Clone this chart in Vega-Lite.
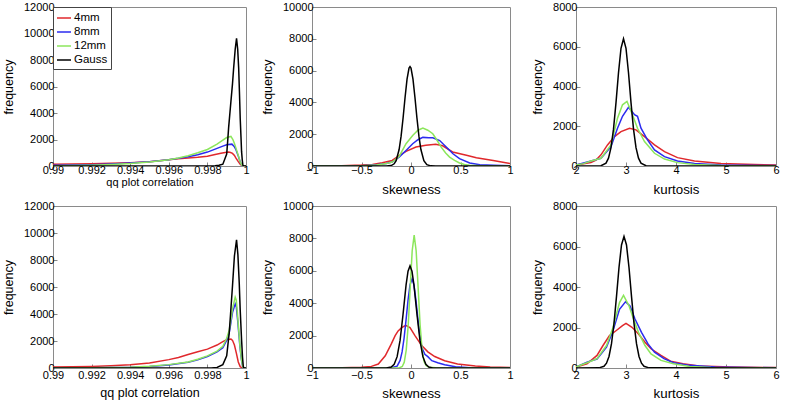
{
  "$schema": "https://vega.github.io/schema/vega-lite/v6.json",
  "background": "white",
  "padding": {"left": 1, "top": 0, "right": 0, "bottom": 0},
  "config": {
    "font": "Liberation Sans",
    "view": {"stroke": "#8a8a8a", "strokeWidth": 1},
    "axis": {"grid": false, "domain": false, "tickSize": -4, "tickColor": "#888", "labelFontSize": 11, "labelColor": "#000", "labelPadding": 3, "labelFlush": false, "labelOverlap": false, "titleFontSize": 13.3, "titleFontWeight": "normal", "titleColor": "#000", "titlePadding": 5},
    "axisY": {"titleFontSize": 12.5, "titlePadding": 8, "labelPadding": 3},
    "line": {"strokeWidth": 1.5, "clip": true}
  },
  "datasets": {
    "TL": [
      {"s":"4mm","x":0.99,"y":130},{"s":"4mm","x":0.991,"y":150},{"s":"4mm","x":0.992,"y":170},{"s":"4mm","x":0.993,"y":200},{"s":"4mm","x":0.994,"y":250},{"s":"4mm","x":0.995,"y":330},{"s":"4mm","x":0.9955,"y":400},{"s":"4mm","x":0.996,"y":480},{"s":"4mm","x":0.9965,"y":540},{"s":"4mm","x":0.997,"y":600},{"s":"4mm","x":0.9975,"y":660},{"s":"4mm","x":0.998,"y":740},{"s":"4mm","x":0.9984,"y":860},{"s":"4mm","x":0.9987,"y":960},{"s":"4mm","x":0.999,"y":1040},{"s":"4mm","x":0.9991,"y":1050},{"s":"4mm","x":0.9992,"y":1020},{"s":"4mm","x":0.9993,"y":950},{"s":"4mm","x":0.9994,"y":800},{"s":"4mm","x":0.99948,"y":590},{"s":"4mm","x":0.9996,"y":330},{"s":"4mm","x":0.9997,"y":130},{"s":"4mm","x":0.9998,"y":10},{"s":"4mm","x":0.99985,"y":0},{"s":"4mm","x":1,"y":0},
      {"s":"8mm","x":0.99,"y":50},{"s":"8mm","x":0.991,"y":70},{"s":"8mm","x":0.992,"y":100},{"s":"8mm","x":0.993,"y":150},{"s":"8mm","x":0.994,"y":230},{"s":"8mm","x":0.995,"y":330},{"s":"8mm","x":0.996,"y":480},{"s":"8mm","x":0.9965,"y":580},{"s":"8mm","x":0.997,"y":700},{"s":"8mm","x":0.9975,"y":850},{"s":"8mm","x":0.998,"y":1050},{"s":"8mm","x":0.9985,"y":1330},{"s":"8mm","x":0.9988,"y":1500},{"s":"8mm","x":0.999,"y":1600},{"s":"8mm","x":0.99927,"y":1650},{"s":"8mm","x":0.9994,"y":1450},{"s":"8mm","x":0.99948,"y":1230},{"s":"8mm","x":0.9996,"y":750},{"s":"8mm","x":0.9997,"y":300},{"s":"8mm","x":0.99978,"y":80},{"s":"8mm","x":0.99984,"y":0},{"s":"8mm","x":1,"y":0},
      {"s":"12mm","x":0.99,"y":10},{"s":"12mm","x":0.991,"y":30},{"s":"12mm","x":0.992,"y":60},{"s":"12mm","x":0.993,"y":110},{"s":"12mm","x":0.994,"y":190},{"s":"12mm","x":0.995,"y":310},{"s":"12mm","x":0.996,"y":470},{"s":"12mm","x":0.9965,"y":600},{"s":"12mm","x":0.997,"y":780},{"s":"12mm","x":0.9975,"y":1000},{"s":"12mm","x":0.998,"y":1250},{"s":"12mm","x":0.9985,"y":1650},{"s":"12mm","x":0.9988,"y":1950},{"s":"12mm","x":0.999,"y":2150},{"s":"12mm","x":0.99922,"y":2230},{"s":"12mm","x":0.99932,"y":2000},{"s":"12mm","x":0.9994,"y":1700},{"s":"12mm","x":0.99948,"y":1350},{"s":"12mm","x":0.9996,"y":800},{"s":"12mm","x":0.9997,"y":300},{"s":"12mm","x":0.99978,"y":80},{"s":"12mm","x":0.99984,"y":0},{"s":"12mm","x":1,"y":0},
      {"s":"Gauss","x":0.99,"y":0},{"s":"Gauss","x":0.998,"y":0},{"s":"Gauss","x":0.9984,"y":20},{"s":"Gauss","x":0.9986,"y":60},{"s":"Gauss","x":0.9988,"y":140},{"s":"Gauss","x":0.999,"y":900},{"s":"Gauss","x":0.99905,"y":1860},{"s":"Gauss","x":0.9991,"y":2900},{"s":"Gauss","x":0.99916,"y":3900},{"s":"Gauss","x":0.99922,"y":4900},{"s":"Gauss","x":0.9993,"y":6200},{"s":"Gauss","x":0.99936,"y":7400},{"s":"Gauss","x":0.99944,"y":8800},{"s":"Gauss","x":0.99951,"y":9640},{"s":"Gauss","x":0.99957,"y":8800},{"s":"Gauss","x":0.99962,"y":7400},{"s":"Gauss","x":0.99966,"y":5600},{"s":"Gauss","x":0.9997,"y":3600},{"s":"Gauss","x":0.99974,"y":2200},{"s":"Gauss","x":0.99977,"y":1100},{"s":"Gauss","x":0.99981,"y":400},{"s":"Gauss","x":0.99984,"y":50},{"s":"Gauss","x":0.9999,"y":0},{"s":"Gauss","x":1,"y":0}
    ],
    "TM": [
      {"s":"4mm","x":-1,"y":0},{"s":"4mm","x":-0.7,"y":20},{"s":"4mm","x":-0.5,"y":60},{"s":"4mm","x":-0.39,"y":100},{"s":"4mm","x":-0.29,"y":200},{"s":"4mm","x":-0.19,"y":350},{"s":"4mm","x":-0.12,"y":650},{"s":"4mm","x":-0.05,"y":920},{"s":"4mm","x":0.05,"y":1190},{"s":"4mm","x":0.15,"y":1300},{"s":"4mm","x":0.25,"y":1360},{"s":"4mm","x":0.32,"y":1270},{"s":"4mm","x":0.42,"y":880},{"s":"4mm","x":0.56,"y":670},{"s":"4mm","x":0.66,"y":520},{"s":"4mm","x":0.83,"y":350},{"s":"4mm","x":1,"y":150},
      {"s":"8mm","x":-1,"y":0},{"s":"8mm","x":-0.5,"y":20},{"s":"8mm","x":-0.35,"y":80},{"s":"8mm","x":-0.25,"y":160},{"s":"8mm","x":-0.19,"y":250},{"s":"8mm","x":-0.12,"y":560},{"s":"8mm","x":-0.05,"y":980},{"s":"8mm","x":0.017,"y":1400},{"s":"8mm","x":0.07,"y":1650},{"s":"8mm","x":0.12,"y":1800},{"s":"8mm","x":0.18,"y":1780},{"s":"8mm","x":0.22,"y":1770},{"s":"8mm","x":0.29,"y":1600},{"s":"8mm","x":0.356,"y":1190},{"s":"8mm","x":0.424,"y":770},{"s":"8mm","x":0.49,"y":460},{"s":"8mm","x":0.593,"y":190},{"s":"8mm","x":0.695,"y":80},{"s":"8mm","x":0.83,"y":40},{"s":"8mm","x":1,"y":10},
      {"s":"12mm","x":-1,"y":0},{"s":"12mm","x":-0.5,"y":10},{"s":"12mm","x":-0.35,"y":60},{"s":"12mm","x":-0.25,"y":150},{"s":"12mm","x":-0.19,"y":250},{"s":"12mm","x":-0.12,"y":600},{"s":"12mm","x":-0.05,"y":1400},{"s":"12mm","x":0.017,"y":1920},{"s":"12mm","x":0.07,"y":2250},{"s":"12mm","x":0.12,"y":2380},{"s":"12mm","x":0.17,"y":2250},{"s":"12mm","x":0.22,"y":2030},{"s":"12mm","x":0.26,"y":1650},{"s":"12mm","x":0.305,"y":1190},{"s":"12mm","x":0.35,"y":820},{"s":"12mm","x":0.39,"y":560},{"s":"12mm","x":0.44,"y":350},{"s":"12mm","x":0.49,"y":190},{"s":"12mm","x":0.54,"y":90},{"s":"12mm","x":0.59,"y":40},{"s":"12mm","x":0.7,"y":10},{"s":"12mm","x":1,"y":0},
      {"s":"Gauss","x":-1,"y":0},{"s":"Gauss","x":-0.25,"y":0},{"s":"Gauss","x":-0.2,"y":29},{"s":"Gauss","x":-0.17,"y":139},{"s":"Gauss","x":-0.15,"y":340},{"s":"Gauss","x":-0.12,"y":1035},{"s":"Gauss","x":-0.1,"y":1875},{"s":"Gauss","x":-0.08,"y":3017},{"s":"Gauss","x":-0.06,"y":4310},{"s":"Gauss","x":-0.04,"y":5468},{"s":"Gauss","x":-0.02,"y":6158},{"s":"Gauss","x":-0.01,"y":6250},{"s":"Gauss","x":0,"y":6158},{"s":"Gauss","x":0.02,"y":5468},{"s":"Gauss","x":0.04,"y":4310},{"s":"Gauss","x":0.06,"y":3017},{"s":"Gauss","x":0.08,"y":1875},{"s":"Gauss","x":0.1,"y":1035},{"s":"Gauss","x":0.13,"y":340},{"s":"Gauss","x":0.16,"y":85},{"s":"Gauss","x":0.2,"y":9},{"s":"Gauss","x":0.25,"y":0},{"s":"Gauss","x":1,"y":0}
    ],
    "TR": [
      {"s":"4mm","x":2,"y":50},{"s":"4mm","x":2.3,"y":180},{"s":"4mm","x":2.4,"y":300},{"s":"4mm","x":2.5,"y":560},{"s":"4mm","x":2.63,"y":1060},{"s":"4mm","x":2.77,"y":1480},{"s":"4mm","x":2.9,"y":1730},{"s":"4mm","x":3.07,"y":1900},{"s":"4mm","x":3.2,"y":1820},{"s":"4mm","x":3.37,"y":1480},{"s":"4mm","x":3.57,"y":1060},{"s":"4mm","x":3.77,"y":720},{"s":"4mm","x":4.03,"y":420},{"s":"4mm","x":4.37,"y":250},{"s":"4mm","x":4.9,"y":120},{"s":"4mm","x":5.57,"y":70},{"s":"4mm","x":6,"y":50},
      {"s":"8mm","x":2,"y":50},{"s":"8mm","x":2.3,"y":250},{"s":"8mm","x":2.5,"y":390},{"s":"8mm","x":2.7,"y":980},{"s":"8mm","x":2.83,"y":1900},{"s":"8mm","x":2.93,"y":2500},{"s":"8mm","x":3.05,"y":2950},{"s":"8mm","x":3.17,"y":2580},{"s":"8mm","x":3.23,"y":2500},{"s":"8mm","x":3.3,"y":1900},{"s":"8mm","x":3.43,"y":1310},{"s":"8mm","x":3.57,"y":810},{"s":"8mm","x":3.77,"y":470},{"s":"8mm","x":4.03,"y":250},{"s":"8mm","x":4.37,"y":130},{"s":"8mm","x":4.9,"y":50},{"s":"8mm","x":6,"y":20},
      {"s":"12mm","x":2,"y":50},{"s":"12mm","x":2.15,"y":120},{"s":"12mm","x":2.3,"y":250},{"s":"12mm","x":2.5,"y":390},{"s":"12mm","x":2.7,"y":1060},{"s":"12mm","x":2.83,"y":2400},{"s":"12mm","x":2.93,"y":3080},{"s":"12mm","x":3.02,"y":3250},{"s":"12mm","x":3.13,"y":2580},{"s":"12mm","x":3.23,"y":1900},{"s":"12mm","x":3.37,"y":1230},{"s":"12mm","x":3.57,"y":640},{"s":"12mm","x":3.77,"y":350},{"s":"12mm","x":4.03,"y":170},{"s":"12mm","x":4.37,"y":80},{"s":"12mm","x":4.9,"y":30},{"s":"12mm","x":6,"y":10},
      {"s":"Gauss","x":2,"y":0},{"s":"Gauss","x":2.5,"y":12},{"s":"Gauss","x":2.6,"y":144},{"s":"Gauss","x":2.65,"y":393},{"s":"Gauss","x":2.7,"y":922},{"s":"Gauss","x":2.75,"y":1852},{"s":"Gauss","x":2.8,"y":3186},{"s":"Gauss","x":2.85,"y":4694},{"s":"Gauss","x":2.9,"y":5923},{"s":"Gauss","x":2.95,"y":6400},{"s":"Gauss","x":3,"y":5923},{"s":"Gauss","x":3.05,"y":4694},{"s":"Gauss","x":3.1,"y":3186},{"s":"Gauss","x":3.15,"y":1852},{"s":"Gauss","x":3.2,"y":922},{"s":"Gauss","x":3.25,"y":393},{"s":"Gauss","x":3.3,"y":144},{"s":"Gauss","x":3.4,"y":12},{"s":"Gauss","x":6,"y":0}
    ],
    "BL": [
      {"s":"4mm","x":0.99,"y":70},{"s":"4mm","x":0.991,"y":90},{"s":"4mm","x":0.992,"y":120},{"s":"4mm","x":0.993,"y":170},{"s":"4mm","x":0.994,"y":240},{"s":"4mm","x":0.995,"y":370},{"s":"4mm","x":0.996,"y":620},{"s":"4mm","x":0.9965,"y":780},{"s":"4mm","x":0.997,"y":1000},{"s":"4mm","x":0.9975,"y":1200},{"s":"4mm","x":0.998,"y":1400},{"s":"4mm","x":0.9985,"y":1700},{"s":"4mm","x":0.9988,"y":1950},{"s":"4mm","x":0.999,"y":2100},{"s":"4mm","x":0.99922,"y":2150},{"s":"4mm","x":0.9993,"y":2050},{"s":"4mm","x":0.9994,"y":1700},{"s":"4mm","x":0.9995,"y":1100},{"s":"4mm","x":0.9996,"y":450},{"s":"4mm","x":0.9997,"y":100},{"s":"4mm","x":0.9998,"y":0},{"s":"4mm","x":1,"y":0},
      {"s":"8mm","x":0.99,"y":0},{"s":"8mm","x":0.992,"y":20},{"s":"8mm","x":0.994,"y":50},{"s":"8mm","x":0.995,"y":110},{"s":"8mm","x":0.996,"y":220},{"s":"8mm","x":0.997,"y":420},{"s":"8mm","x":0.9975,"y":600},{"s":"8mm","x":0.998,"y":850},{"s":"8mm","x":0.9985,"y":1200},{"s":"8mm","x":0.9988,"y":1500},{"s":"8mm","x":0.999,"y":2050},{"s":"8mm","x":0.99913,"y":2600},{"s":"8mm","x":0.9992,"y":3200},{"s":"8mm","x":0.9993,"y":4100},{"s":"8mm","x":0.99944,"y":4750},{"s":"8mm","x":0.9995,"y":4500},{"s":"8mm","x":0.99957,"y":3500},{"s":"8mm","x":0.99969,"y":1500},{"s":"8mm","x":0.99977,"y":550},{"s":"8mm","x":0.99983,"y":100},{"s":"8mm","x":0.9999,"y":0},{"s":"8mm","x":1,"y":0},
      {"s":"12mm","x":0.99,"y":0},{"s":"12mm","x":0.992,"y":20},{"s":"12mm","x":0.994,"y":60},{"s":"12mm","x":0.995,"y":130},{"s":"12mm","x":0.996,"y":250},{"s":"12mm","x":0.997,"y":450},{"s":"12mm","x":0.9975,"y":650},{"s":"12mm","x":0.998,"y":900},{"s":"12mm","x":0.9985,"y":1250},{"s":"12mm","x":0.9988,"y":1600},{"s":"12mm","x":0.999,"y":2200},{"s":"12mm","x":0.99913,"y":2800},{"s":"12mm","x":0.9992,"y":3400},{"s":"12mm","x":0.9993,"y":4400},{"s":"12mm","x":0.99944,"y":5250},{"s":"12mm","x":0.9995,"y":5000},{"s":"12mm","x":0.99957,"y":3800},{"s":"12mm","x":0.99969,"y":1600},{"s":"12mm","x":0.99977,"y":600},{"s":"12mm","x":0.99983,"y":100},{"s":"12mm","x":0.9999,"y":0},{"s":"12mm","x":1,"y":0},
      {"s":"Gauss","x":0.99,"y":0},{"s":"Gauss","x":0.9982,"y":0},{"s":"Gauss","x":0.9985,"y":40},{"s":"Gauss","x":0.9988,"y":250},{"s":"Gauss","x":0.999,"y":900},{"s":"Gauss","x":0.99913,"y":2590},{"s":"Gauss","x":0.9992,"y":4000},{"s":"Gauss","x":0.9993,"y":6070},{"s":"Gauss","x":0.9994,"y":8300},{"s":"Gauss","x":0.99951,"y":9500},{"s":"Gauss","x":0.99958,"y":8400},{"s":"Gauss","x":0.99965,"y":6300},{"s":"Gauss","x":0.9997,"y":4300},{"s":"Gauss","x":0.99977,"y":2100},{"s":"Gauss","x":0.99982,"y":800},{"s":"Gauss","x":0.99986,"y":100},{"s":"Gauss","x":0.9999,"y":0},{"s":"Gauss","x":1,"y":0}
    ],
    "BM": [
      {"s":"4mm","x":-1,"y":0},{"s":"4mm","x":-0.7,"y":20},{"s":"4mm","x":-0.5,"y":50},{"s":"4mm","x":-0.4,"y":100},{"s":"4mm","x":-0.33,"y":245},{"s":"4mm","x":-0.26,"y":750},{"s":"4mm","x":-0.2,"y":1470},{"s":"4mm","x":-0.16,"y":2000},{"s":"4mm","x":-0.13,"y":2290},{"s":"4mm","x":-0.094,"y":2490},{"s":"4mm","x":-0.054,"y":2630},{"s":"4mm","x":-0.01,"y":2490},{"s":"4mm","x":0.04,"y":2000},{"s":"4mm","x":0.106,"y":1400},{"s":"4mm","x":0.17,"y":1000},{"s":"4mm","x":0.24,"y":710},{"s":"4mm","x":0.34,"y":450},{"s":"4mm","x":0.47,"y":245},{"s":"4mm","x":0.65,"y":120},{"s":"4mm","x":0.8,"y":60},{"s":"4mm","x":1,"y":30},
      {"s":"8mm","x":-1,"y":0},{"s":"8mm","x":-0.2,"y":20},{"s":"8mm","x":-0.14,"y":116},{"s":"8mm","x":-0.11,"y":465},{"s":"8mm","x":-0.09,"y":990},{"s":"8mm","x":-0.07,"y":1836},{"s":"8mm","x":-0.05,"y":2966},{"s":"8mm","x":-0.03,"y":4182},{"s":"8mm","x":-0.01,"y":5135},{"s":"8mm","x":0.01,"y":5500},{"s":"8mm","x":0.03,"y":5135},{"s":"8mm","x":0.05,"y":4182},{"s":"8mm","x":0.07,"y":3000},{"s":"8mm","x":0.09,"y":2000},{"s":"8mm","x":0.11,"y":1250},{"s":"8mm","x":0.14,"y":850},{"s":"8mm","x":0.17,"y":700},{"s":"8mm","x":0.21,"y":450},{"s":"8mm","x":0.27,"y":320},{"s":"8mm","x":0.34,"y":200},{"s":"8mm","x":0.45,"y":80},{"s":"8mm","x":0.6,"y":20},{"s":"8mm","x":1,"y":0},
      {"s":"12mm","x":-1,"y":0},{"s":"12mm","x":-0.12,"y":0},{"s":"12mm","x":-0.088,"y":91},{"s":"12mm","x":-0.068,"y":360},{"s":"12mm","x":-0.048,"y":1110},{"s":"12mm","x":-0.028,"y":2660},{"s":"12mm","x":-0.008,"y":4970},{"s":"12mm","x":0.012,"y":7240},{"s":"12mm","x":0.032,"y":8200},{"s":"12mm","x":0.052,"y":7240},{"s":"12mm","x":0.072,"y":4970},{"s":"12mm","x":0.092,"y":2660},{"s":"12mm","x":0.112,"y":1110},{"s":"12mm","x":0.132,"y":400},{"s":"12mm","x":0.152,"y":150},{"s":"12mm","x":0.18,"y":50},{"s":"12mm","x":0.25,"y":10},{"s":"12mm","x":1,"y":0},
      {"s":"Gauss","x":-1,"y":0},{"s":"Gauss","x":-0.25,"y":0},{"s":"Gauss","x":-0.2,"y":58},{"s":"Gauss","x":-0.17,"y":225},{"s":"Gauss","x":-0.14,"y":700},{"s":"Gauss","x":-0.11,"y":1717},{"s":"Gauss","x":-0.08,"y":3331},{"s":"Gauss","x":-0.05,"y":5117},{"s":"Gauss","x":-0.03,"y":5980},{"s":"Gauss","x":-0.01,"y":6300},{"s":"Gauss","x":0.01,"y":5980},{"s":"Gauss","x":0.03,"y":5117},{"s":"Gauss","x":0.06,"y":3331},{"s":"Gauss","x":0.09,"y":1717},{"s":"Gauss","x":0.12,"y":700},{"s":"Gauss","x":0.15,"y":225},{"s":"Gauss","x":0.18,"y":58},{"s":"Gauss","x":0.22,"y":6},{"s":"Gauss","x":0.25,"y":0},{"s":"Gauss","x":1,"y":0}
    ],
    "BR": [
      {"s":"4mm","x":2,"y":50},{"s":"4mm","x":2.22,"y":210},{"s":"4mm","x":2.42,"y":620},{"s":"4mm","x":2.54,"y":1110},{"s":"4mm","x":2.67,"y":1600},{"s":"4mm","x":2.8,"y":1840},{"s":"4mm","x":2.93,"y":2090},{"s":"4mm","x":3,"y":2200},{"s":"4mm","x":3.12,"y":2010},{"s":"4mm","x":3.25,"y":1680},{"s":"4mm","x":3.38,"y":1270},{"s":"4mm","x":3.5,"y":950},{"s":"4mm","x":3.7,"y":620},{"s":"4mm","x":3.89,"y":340},{"s":"4mm","x":4.14,"y":210},{"s":"4mm","x":4.46,"y":100},{"s":"4mm","x":5.1,"y":50},{"s":"4mm","x":6,"y":20},
      {"s":"8mm","x":2,"y":50},{"s":"8mm","x":2.22,"y":290},{"s":"8mm","x":2.42,"y":440},{"s":"8mm","x":2.61,"y":1030},{"s":"8mm","x":2.74,"y":1840},{"s":"8mm","x":2.87,"y":2900},{"s":"8mm","x":2.99,"y":3270},{"s":"8mm","x":3.08,"y":3070},{"s":"8mm","x":3.18,"y":2420},{"s":"8mm","x":3.31,"y":1760},{"s":"8mm","x":3.44,"y":1190},{"s":"8mm","x":3.57,"y":780},{"s":"8mm","x":3.76,"y":460},{"s":"8mm","x":3.95,"y":260},{"s":"8mm","x":4.27,"y":130},{"s":"8mm","x":4.78,"y":50},{"s":"8mm","x":6,"y":10},
      {"s":"12mm","x":2,"y":50},{"s":"12mm","x":2.1,"y":150},{"s":"12mm","x":2.22,"y":260},{"s":"12mm","x":2.42,"y":460},{"s":"12mm","x":2.61,"y":1110},{"s":"12mm","x":2.74,"y":2000},{"s":"12mm","x":2.87,"y":3230},{"s":"12mm","x":2.95,"y":3590},{"s":"12mm","x":3.06,"y":3070},{"s":"12mm","x":3.15,"y":2420},{"s":"12mm","x":3.25,"y":1760},{"s":"12mm","x":3.38,"y":1110},{"s":"12mm","x":3.5,"y":700},{"s":"12mm","x":3.7,"y":375},{"s":"12mm","x":3.95,"y":210},{"s":"12mm","x":4.27,"y":80},{"s":"12mm","x":4.7,"y":20},{"s":"12mm","x":6,"y":5},
      {"s":"Gauss","x":2,"y":0},{"s":"Gauss","x":2.46,"y":7},{"s":"Gauss","x":2.56,"y":86},{"s":"Gauss","x":2.61,"y":237},{"s":"Gauss","x":2.66,"y":571},{"s":"Gauss","x":2.71,"y":1200},{"s":"Gauss","x":2.76,"y":2205},{"s":"Gauss","x":2.81,"y":3538},{"s":"Gauss","x":2.86,"y":4962},{"s":"Gauss","x":2.91,"y":6076},{"s":"Gauss","x":2.96,"y":6500},{"s":"Gauss","x":3.01,"y":6076},{"s":"Gauss","x":3.06,"y":4962},{"s":"Gauss","x":3.11,"y":3538},{"s":"Gauss","x":3.16,"y":2205},{"s":"Gauss","x":3.21,"y":1200},{"s":"Gauss","x":3.26,"y":571},{"s":"Gauss","x":3.31,"y":237},{"s":"Gauss","x":3.36,"y":86},{"s":"Gauss","x":3.46,"y":7},{"s":"Gauss","x":6,"y":0}
    ]
  },
  "spacing": 3,
  "resolve": {"scale": {"color": "independent"}, "legend": {"color": "independent"}},
  "vconcat": [
    {
      "spacing": 66,
      "bounds": "flush",
      "resolve": {"scale": {"color": "independent"}, "legend": {"color": "independent"}},
      "hconcat": [
        {
          "width": 193, "height": 159,
          "data": {"name": "TL"},
          "mark": {"type": "line", "strokeWidth": 1.5, "clip": true},
          "encoding": {
            "x": {"field": "x", "type": "quantitative", "scale": {"domain": [0.99, 1], "nice": false, "zero": false}, "axis": {"values": [0.99, 0.992, 0.994, 0.996, 0.998, 1], "format": "~g", "title": "qq plot correlation", "titleFontSize": 11, "titlePadding": 1, "labelPadding": 2}},
            "y": {"field": "y", "type": "quantitative", "scale": {"domain": [0, 12000], "nice": false}, "axis": {"values": [0, 2000, 4000, 6000, 8000, 10000, 12000], "format": "d", "title": "frequency"}},
            "color": {"field": "s", "type": "nominal", "scale": {"domain": ["4mm", "8mm", "12mm", "Gauss"], "range": ["#e0282c", "#2b2bef", "#8ce65c", "#000000"]},
              "legend": {"orient": "top-left", "offset": 0, "title": null, "strokeColor": "#444", "fillColor": "white", "padding": 3, "symbolType": "stroke", "symbolSize": 196, "symbolStrokeWidth": 1.5, "labelFontSize": 11.5, "labelOffset": 2, "rowPadding": 0, "labelColor": "#000"}}
          }
        },
        {
          "width": 198, "height": 159,
          "data": {"name": "TM"},
          "mark": {"type": "line", "strokeWidth": 1.5, "clip": true},
          "encoding": {
            "x": {"field": "x", "type": "quantitative", "scale": {"domain": [-1, 1], "nice": false, "zero": false}, "axis": {"values": [-1, -0.5, 0, 0.5, 1], "format": "~g", "title": "skewness", "labelPadding": 2, "titlePadding": 7}},
            "y": {"field": "y", "type": "quantitative", "scale": {"domain": [0, 10000], "nice": false}, "axis": {"values": [0, 2000, 4000, 6000, 8000, 10000], "format": "d", "title": "frequency"}},
            "color": {"field": "s", "type": "nominal", "scale": {"domain": ["4mm", "8mm", "12mm", "Gauss"], "range": ["#e0282c", "#2b2bef", "#8ce65c", "#000000"]}, "legend": null}
          }
        },
        {
          "width": 200, "height": 159,
          "data": {"name": "TR"},
          "mark": {"type": "line", "strokeWidth": 1.5, "clip": true},
          "encoding": {
            "x": {"field": "x", "type": "quantitative", "scale": {"domain": [2, 6], "nice": false, "zero": false}, "axis": {"values": [2, 3, 4, 5, 6], "format": "d", "title": "kurtosis", "labelPadding": 2, "titlePadding": 7}},
            "y": {"field": "y", "type": "quantitative", "scale": {"domain": [0, 8000], "nice": false}, "axis": {"values": [0, 2000, 4000, 6000, 8000], "format": "d", "title": "frequency"}},
            "color": {"field": "s", "type": "nominal", "scale": {"domain": ["4mm", "8mm", "12mm", "Gauss"], "range": ["#e0282c", "#2b2bef", "#8ce65c", "#000000"]}, "legend": null}
          }
        }
      ]
    },
    {
      "spacing": 66,
      "bounds": "flush",
      "resolve": {"scale": {"color": "independent"}, "legend": {"color": "independent"}},
      "hconcat": [
        {
          "width": 193, "height": 162,
          "data": {"name": "BL"},
          "mark": {"type": "line", "strokeWidth": 1.5, "clip": true},
          "encoding": {
            "x": {"field": "x", "type": "quantitative", "scale": {"domain": [0.99, 1], "nice": false, "zero": false}, "axis": {"values": [0.99, 0.992, 0.994, 0.996, 0.998, 1], "format": "~g", "title": "qq plot correlation", "titleFontSize": 12.5, "labelPadding": 5, "titlePadding": 6}},
            "y": {"field": "y", "type": "quantitative", "scale": {"domain": [0, 12000], "nice": false}, "axis": {"values": [0, 2000, 4000, 6000, 8000, 10000, 12000], "format": "d", "title": "frequency"}},
            "color": {"field": "s", "type": "nominal", "scale": {"domain": ["4mm", "8mm", "12mm", "Gauss"], "range": ["#e0282c", "#2b2bef", "#8ce65c", "#000000"]}, "legend": null}
          }
        },
        {
          "width": 198, "height": 162,
          "data": {"name": "BM"},
          "mark": {"type": "line", "strokeWidth": 1.5, "clip": true},
          "encoding": {
            "x": {"field": "x", "type": "quantitative", "scale": {"domain": [-1, 1], "nice": false, "zero": false}, "axis": {"values": [-1, -0.5, 0, 0.5, 1], "format": "~g", "title": "skewness", "labelPadding": 5, "titlePadding": 6}},
            "y": {"field": "y", "type": "quantitative", "scale": {"domain": [0, 10000], "nice": false}, "axis": {"values": [0, 2000, 4000, 6000, 8000, 10000], "format": "d", "title": "frequency"}},
            "color": {"field": "s", "type": "nominal", "scale": {"domain": ["4mm", "8mm", "12mm", "Gauss"], "range": ["#e0282c", "#2b2bef", "#8ce65c", "#000000"]}, "legend": null}
          }
        },
        {
          "width": 200, "height": 162,
          "data": {"name": "BR"},
          "mark": {"type": "line", "strokeWidth": 1.5, "clip": true},
          "encoding": {
            "x": {"field": "x", "type": "quantitative", "scale": {"domain": [2, 6], "nice": false, "zero": false}, "axis": {"values": [2, 3, 4, 5, 6], "format": "d", "title": "kurtosis", "labelPadding": 5, "titlePadding": 6}},
            "y": {"field": "y", "type": "quantitative", "scale": {"domain": [0, 8000], "nice": false}, "axis": {"values": [0, 2000, 4000, 6000, 8000], "format": "d", "title": "frequency"}},
            "color": {"field": "s", "type": "nominal", "scale": {"domain": ["4mm", "8mm", "12mm", "Gauss"], "range": ["#e0282c", "#2b2bef", "#8ce65c", "#000000"]}, "legend": null}
          }
        }
      ]
    }
  ]
}
